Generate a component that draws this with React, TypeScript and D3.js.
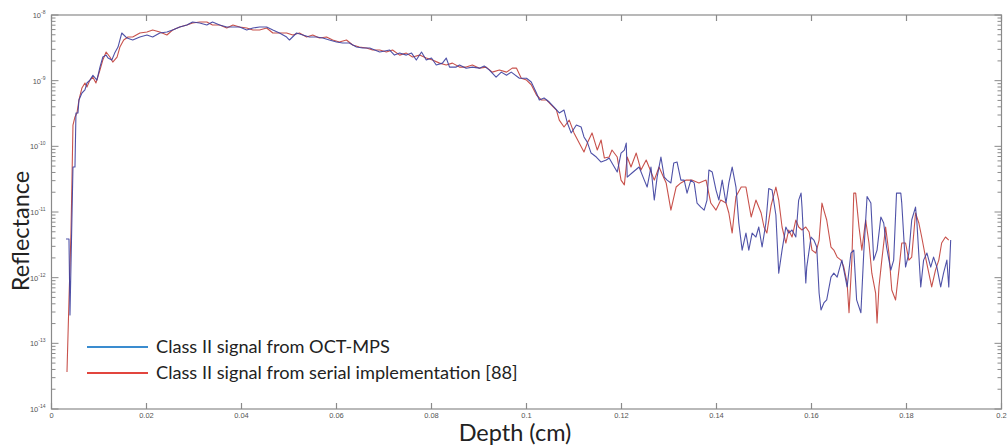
import React from "react";
import * as d3 from "d3";

// ---- Data ----
const blueDepth = [
  0.00305, 0.00368, 0.00389, 0.00452, 0.00494, 0.00515, 0.00557, 0.00578, 0.00641, 0.00704, 0.00746,
  0.00809, 0.00872, 0.00956, 0.0102, 0.0108, 0.0115, 0.0119, 0.0127, 0.0133, 0.014, 0.0148, 0.0159,
  0.0171, 0.0186, 0.0201, 0.0213, 0.0228, 0.0243, 0.0255, 0.027, 0.0285, 0.0297, 0.0312, 0.0327,
  0.0339, 0.0354, 0.0369, 0.0382, 0.0396, 0.0411, 0.0424, 0.0438, 0.0453, 0.0466, 0.048, 0.0495,
  0.0501, 0.0516, 0.0529, 0.0543, 0.0558, 0.0571, 0.0585, 0.06, 0.0613, 0.0627, 0.0642, 0.0655,
  0.067, 0.0691, 0.0712, 0.0722, 0.0733, 0.0747, 0.0758, 0.0768, 0.0779, 0.0789, 0.08, 0.081,
  0.0823, 0.0831, 0.0838, 0.0852, 0.0859, 0.0873, 0.0886, 0.0901, 0.0911, 0.0922, 0.0936, 0.0947,
  0.0958, 0.0968, 0.0985, 0.1, 0.101, 0.1021, 0.1027, 0.1037, 0.1048, 0.1058, 0.1069, 0.1079,
  0.1086, 0.1094, 0.1105, 0.1115, 0.1121, 0.1128, 0.1136, 0.1147, 0.1157, 0.1168, 0.1174, 0.118,
  0.1191, 0.1199, 0.1206, 0.121, 0.1212, 0.1222, 0.1237, 0.1248, 0.1254, 0.1262, 0.1269, 0.1275,
  0.1283, 0.129, 0.1296, 0.1304, 0.131, 0.1317, 0.1325, 0.1332, 0.1338, 0.1346, 0.1353, 0.1359,
  0.1367, 0.1374, 0.138, 0.1384, 0.1391, 0.1399, 0.1405, 0.1412, 0.142, 0.1426, 0.1433, 0.1441,
  0.1447, 0.1454, 0.1462, 0.1468, 0.1475, 0.1483, 0.1489, 0.1496, 0.1504, 0.151, 0.1517, 0.1525,
  0.1531, 0.1538, 0.1546, 0.1552, 0.1559, 0.1567, 0.1573, 0.1578, 0.158, 0.1588, 0.159, 0.1599,
  0.1605, 0.1611, 0.1616, 0.162, 0.1626, 0.1632, 0.1641, 0.1647, 0.1654, 0.1658, 0.1664, 0.1675,
  0.1683, 0.1689, 0.1695, 0.1704, 0.171, 0.1717, 0.1725, 0.1731, 0.1738, 0.1746, 0.1752, 0.1758,
  0.1767, 0.1773, 0.1779, 0.1788, 0.179, 0.1798, 0.1805, 0.1811, 0.1819, 0.1822, 0.183, 0.1836,
  0.1843, 0.1851, 0.1857, 0.1864, 0.1872, 0.1878, 0.1885, 0.1889, 0.1893,
];
const blueValues = [
  3.88e-12, 3.88e-12, 2.7e-13, 4.84e-11, 4.84e-11, 3.22e-10, 3.22e-10, 5.08e-10, 6.49e-10, 7.22e-10, 9.22e-10,
  1.02e-9, 1.21e-9, 1.02e-9, 1.61e-9, 2.29e-9, 2.45e-9, 2.21e-9, 2.06e-9, 2.63e-9, 3.25e-9, 5.32e-9, 4.46e-9,
  4.16e-9, 4.62e-9, 4.96e-9, 4.62e-9, 5.32e-9, 5.51e-9, 5.91e-9, 6.56e-9, 7.04e-9, 7.82e-9, 7.55e-9, 7.04e-9,
  7.82e-9, 7.04e-9, 6.56e-9, 6.56e-9, 6.56e-9, 5.91e-9, 6.34e-9, 6.56e-9, 6.56e-9, 5.91e-9, 5.32e-9, 4.62e-9,
  4.16e-9, 5.32e-9, 4.96e-9, 4.62e-9, 4.62e-9, 4.46e-9, 4.16e-9, 3.88e-9, 3.74e-9, 3.74e-9, 3.25e-9, 3.14e-9,
  3.14e-9, 2.73e-9, 2.93e-9, 2.45e-9, 2.63e-9, 2.45e-9, 2.63e-9, 2.06e-9, 2.73e-9, 2.06e-9, 2.21e-9, 1.73e-9,
  1.85e-9, 2.21e-9, 1.61e-9, 1.61e-9, 1.73e-9, 1.55e-9, 1.61e-9, 1.55e-9, 1.67e-9, 1.45e-9, 1.13e-9, 1.35e-9,
  1.21e-9, 1.35e-9, 1.09e-9, 1.09e-9, 9.55e-10, 6.49e-10, 5.08e-10, 5.45e-10, 4.73e-10, 3.97e-10, 3.22e-10, 3.57e-10,
  2.27e-10, 1.6e-10, 2.11e-10, 1.97e-10, 1.39e-10, 1.16e-10, 7.9e-11, 6.87e-11, 5.77e-11, 6.19e-11, 6.63e-11, 5.56e-11,
  4.06e-11, 7.9e-11, 8.78e-11, 1.12e-10, 3.4e-11, 3.92e-11, 4.84e-11, 3.06e-11, 2.4e-11, 4.84e-11, 1.52e-11, 3.4e-11,
  6.87e-11, 3.4e-11, 3.06e-11, 2.77e-11, 5.56e-11, 5.77e-11, 3.06e-11, 3.06e-11, 1.94e-11, 3.06e-11, 2.77e-11, 1.37e-11,
  1.19e-11, 1.07e-11, 1.52e-11, 4.35e-11, 4.06e-11, 2.16e-11, 1.52e-11, 3.06e-11, 1.37e-11, 2.77e-11, 4.84e-11, 2.4e-11,
  6.8e-12, 2.63e-12, 4.78e-12, 2.63e-12, 4.78e-12, 4.16e-12, 5.91e-12, 2.93e-12, 6.8e-12, 2.28e-11, 2.16e-11, 9.0e-12,
  1.17e-12, 2.63e-12, 5.91e-12, 4.78e-12, 5.32e-12, 4.16e-12, 1.52e-11, 1.94e-11, 1.19e-11, 8.3e-13, 1.45e-12, 4.16e-12,
  3.74e-12, 2.93e-12, 5.83e-13, 3.22e-13, 4.12e-13, 4.58e-13, 1.02e-12, 1.17e-12, 1.02e-12, 1.3e-12, 1.85e-12, 7.22e-13,
  2.37e-12, 2.63e-12, 4.58e-13, 2.92e-13, 2.37e-12, 1.72e-11, 1.37e-11, 1.85e-12, 2.63e-12, 8.39e-12, 6.8e-12, 2.93e-12,
  1.3e-12, 1.85e-12, 1.94e-11, 1.94e-11, 1.37e-11, 1.45e-12, 2.37e-12, 7.55e-12, 1.19e-11, 6.8e-12, 7.22e-13, 1.85e-12,
  2.37e-12, 1.45e-12, 2.06e-12, 1.45e-12, 7.22e-13, 1.17e-12, 1.85e-12, 7.22e-13, 3.74e-12,
];

const redDepth = [
  0.00326, 0.00368, 0.0041, 0.00431, 0.00452, 0.00494, 0.00536, 0.00578, 0.00641, 0.00704, 0.00746,
  0.00809, 0.00872, 0.00935, 0.0102, 0.0108, 0.0115, 0.0123, 0.0129, 0.0138, 0.0144, 0.0152, 0.0161,
  0.0171, 0.0186, 0.0201, 0.0213, 0.0228, 0.0243, 0.0255, 0.027, 0.0285, 0.0297, 0.0312, 0.0327,
  0.0339, 0.0354, 0.0369, 0.0382, 0.0396, 0.0411, 0.0424, 0.0438, 0.0453, 0.0466, 0.048, 0.0495,
  0.0508, 0.0522, 0.0537, 0.055, 0.0564, 0.0579, 0.0592, 0.0606, 0.0621, 0.0634, 0.0648, 0.0663,
  0.0676, 0.0691, 0.0705, 0.0718, 0.0733, 0.0747, 0.076, 0.0775, 0.0789, 0.0802, 0.0817, 0.0831,
  0.0844, 0.0859, 0.0873, 0.0886, 0.0901, 0.0915, 0.0928, 0.0943, 0.0958, 0.097, 0.0979, 0.0989,
  0.1, 0.101, 0.1021, 0.1031, 0.1042, 0.1052, 0.1063, 0.1069, 0.1079, 0.109, 0.11, 0.1111,
  0.1121, 0.1128, 0.1138, 0.1149, 0.1157, 0.1164, 0.1174, 0.118, 0.1191, 0.1199, 0.1206, 0.1212,
  0.122, 0.1231, 0.1241, 0.1252, 0.1258, 0.1269, 0.1279, 0.1294, 0.1304, 0.1315, 0.1325, 0.1336,
  0.1348, 0.1363, 0.1378, 0.1388, 0.1399, 0.1409, 0.142, 0.1426, 0.1433, 0.1441, 0.1452, 0.1462,
  0.1473, 0.1483, 0.1494, 0.15, 0.1506, 0.1515, 0.1525, 0.1531, 0.1538, 0.1546, 0.1552, 0.1559,
  0.1567, 0.1573, 0.158, 0.1588, 0.1595, 0.1601, 0.1609, 0.1616, 0.1622, 0.1626, 0.1632, 0.1641,
  0.1647, 0.1654, 0.1662, 0.1668, 0.1675, 0.1679, 0.1685, 0.1689, 0.1693, 0.17, 0.1706, 0.1714,
  0.1721, 0.1727, 0.1735, 0.1738, 0.1742, 0.1748, 0.1756, 0.1763, 0.1769, 0.1777, 0.1784, 0.179,
  0.1798, 0.1805, 0.1811, 0.1819, 0.1826, 0.1832, 0.184, 0.1847, 0.1853, 0.1861, 0.1868, 0.1874,
  0.1882, 0.1889,
];
const redValues = [
  3.65e-14, 4.58e-13, 4.78e-12, 3.06e-11, 2.11e-10, 2.8e-10, 3.22e-10, 5.08e-10, 7.74e-10, 9.22e-10, 8.02e-10,
  1.02e-9, 1.13e-9, 9.22e-10, 1.45e-9, 2.06e-9, 2.73e-9, 2.29e-9, 1.92e-9, 2.29e-9, 3.25e-9, 4.16e-9, 4.62e-9,
  4.62e-9, 5.32e-9, 5.51e-9, 5.91e-9, 5.51e-9, 4.96e-9, 5.91e-9, 6.56e-9, 7.04e-9, 7.55e-9, 7.82e-9, 7.82e-9,
  7.04e-9, 7.04e-9, 6.34e-9, 7.04e-9, 6.56e-9, 6.34e-9, 5.91e-9, 5.91e-9, 6.34e-9, 5.32e-9, 5.32e-9, 5.32e-9,
  4.96e-9, 5.32e-9, 4.62e-9, 4.96e-9, 4.46e-9, 4.62e-9, 4.16e-9, 3.88e-9, 4.16e-9, 3.49e-9, 3.25e-9, 3.14e-9,
  2.93e-9, 2.93e-9, 2.73e-9, 2.93e-9, 2.45e-9, 2.63e-9, 2.29e-9, 2.45e-9, 2.21e-9, 2.06e-9, 1.85e-9, 1.73e-9,
  1.85e-9, 1.61e-9, 1.61e-9, 1.73e-9, 1.55e-9, 1.61e-9, 1.35e-9, 1.45e-9, 1.35e-9, 1.55e-9, 1.55e-9, 1.09e-9,
  1.02e-9, 8.67e-10, 6.05e-10, 5.08e-10, 5.08e-10, 4.27e-10, 3.57e-10, 2.51e-10, 1.97e-10, 2.51e-10, 1.6e-10, 1.12e-10,
  8.2e-11, 1.12e-10, 1.6e-10, 8.78e-11, 1.25e-10, 6.63e-11, 6.87e-11, 8.78e-11, 6.87e-11, 3.06e-11, 2.59e-11, 6.87e-11,
  4.84e-11, 7.9e-11, 4.35e-11, 6.19e-11, 4.84e-11, 3.06e-11, 4.84e-11, 2.77e-11, 1.07e-11, 2.4e-11, 2.77e-11, 3.06e-11,
  3.06e-11, 2.77e-11, 3.06e-11, 1.37e-11, 1.07e-11, 1.52e-11, 1.37e-11, 9.66e-12, 4.78e-12, 1.72e-11, 2.4e-11, 2.4e-11,
  8.39e-12, 1.52e-11, 9.66e-12, 5.91e-12, 4.78e-12, 1.26e-11, 2.4e-11, 1.52e-11, 5.91e-12, 3.37e-12, 5.32e-12, 4.16e-12,
  7.55e-12, 5.91e-12, 5.32e-12, 5.91e-12, 4.96e-12, 2.63e-12, 2.37e-12, 3.74e-12, 1.37e-11, 1.07e-11, 7.55e-12, 2.93e-12,
  2.63e-12, 2.06e-12, 1.85e-12, 1.45e-12, 8.3e-13, 2.92e-13, 1.85e-12, 1.94e-11, 1.94e-11, 5.91e-12, 2.63e-12, 7.55e-12,
  3.37e-12, 1.17e-12, 5.83e-13, 2.04e-13, 7.22e-13, 1.85e-12, 5.91e-12, 2.37e-12, 6.49e-13, 4.58e-13, 1.3e-12, 3.37e-12,
  3.37e-12, 1.85e-12, 2.06e-12, 9.66e-12, 6.8e-12, 4.16e-12, 2.06e-12, 1.17e-12, 7.22e-13, 1.3e-12, 1.85e-12, 3.37e-12,
  4.16e-12, 3.74e-12,
];

const xTicks = [0, 0.02, 0.04, 0.06, 0.08, 0.1, 0.12, 0.14, 0.16, 0.18, 0.2];
const xTickLabels = ["0", "0.02", "0.04", "0.06", "0.08", "0.1", "0.12", "0.14", "0.16", "0.18", "0.2"];
const yDecades = [-14, -13, -12, -11, -10, -9, -8];
const seriesNames = [
  "Class II signal from OCT-MPS",
  "Class II signal from serial implementation [88]",
];

const W = 1008;
const H = 448;
const left = 51.5;
const right = 1001.5;
const top = 15;
const bottom = 409;
const axisColor = "#8a8a8a";
const labelColor = "#555";
const blueLine = "#3c3f9e";
const redLine = "#c8524c";
const blueLegend = "#3a8ccf";
const redLegend = "#e2453e";

export default function App() {
  const x = d3.scaleLinear().domain([0, 0.2]).range([left, right]);
  const y = d3.scaleLog().domain([1e-14, 1e-8]).range([bottom, top]);

  const line = d3
    .line<[number, number]>()
    .x((d) => x(d[0]))
    .y((d) => y(d[1]));

  const bluePts: [number, number][] = blueDepth.map((d, i) => [d, blueValues[i]]);
  const redPts: [number, number][] = redDepth.map((d, i) => [d, redValues[i]]);

  const minorTicks: { v: number; major: boolean }[] = [];
  for (let e = -14; e < -8; e++) {
    for (let k = 1; k <= 9; k++) {
      minorTicks.push({ v: k * Math.pow(10, e), major: k === 1 });
    }
  }
  minorTicks.push({ v: 1e-8, major: true });

  const font = "Lato, 'Open Sans', sans-serif";

  return (
    <svg
      width={W}
      height={H}
      style={{ position: "absolute", left: 0, top: 0, background: "#fff" }}
    >
      <rect x={0} y={0} width={W} height={H} fill="#fff" />
      <defs>
        <clipPath id="plotclip">
          <rect x={left} y={top} width={right - left} height={bottom - top} />
        </clipPath>
      </defs>
      <g clipPath="url(#plotclip)">
        <path d={line(redPts) || ""} fill="none" stroke={redLine} strokeWidth={1.1} strokeLinejoin="round" />
        <path d={line(bluePts) || ""} fill="none" stroke={blueLine} strokeWidth={1.1} strokeLinejoin="round" opacity={0.9} />
      </g>

      {/* box */}
      <rect x={left} y={top} width={right - left} height={bottom - top} fill="none" stroke={axisColor} strokeWidth={1.2} />

      {/* x ticks */}
      {xTicks.map((t, i) => (
        <g key={"xt" + i}>
          <line x1={x(t)} x2={x(t)} y1={bottom} y2={bottom - 6} stroke={axisColor} strokeWidth={1.2} />
          <line x1={x(t)} x2={x(t)} y1={top} y2={top + 6} stroke={axisColor} strokeWidth={1.2} />
          <text x={x(t)} y={bottom + 9} fontSize={7.5} fill={labelColor} textAnchor="middle" fontFamily="Arial, 'Liberation Sans', sans-serif">
            {xTickLabels[i]}
          </text>
        </g>
      ))}

      {/* y ticks */}
      {minorTicks.map((t, i) => {
        const len = t.major ? 7 : 4;
        const yy = y(t.v);
        return (
          <g key={"yt" + i}>
            <line x1={left} x2={left + len} y1={yy} y2={yy} stroke={axisColor} strokeWidth={1} />
            <line x1={right} x2={right - len} y1={yy} y2={yy} stroke={axisColor} strokeWidth={1} />
          </g>
        );
      })}
      {yDecades.map((e) => (
        <text key={"yl" + e} x={left - 6} y={y(Math.pow(10, e)) + 3} fontSize={7.5} fill={labelColor} textAnchor="end" fontFamily="Arial, 'Liberation Sans', sans-serif">
          10
          <tspan fontSize={5} dy={-4}>
            {String(e)}
          </tspan>
        </text>
      ))}

      {/* axis titles */}
      <text x={515} y={441} fontSize={23.5} fill="#222" textAnchor="middle" fontFamily={font}>
        Depth (cm)
      </text>
      <text transform={`translate(28.5, 231) rotate(-90)`} fontSize={23.5} fill="#222" textAnchor="middle" fontFamily={font}>
        Reflectance
      </text>

      {/* legend */}
      <line x1={87} x2={148} y1={347} y2={347} stroke={blueLegend} strokeWidth={2} />
      <line x1={87} x2={148} y1={373} y2={373} stroke={redLegend} strokeWidth={2} />
      <text x={156} y={353} fontSize={18.2} fill="#222" fontFamily={font}>
        {seriesNames[0]}
      </text>
      <text x={156} y={379} fontSize={18.2} fill="#222" fontFamily={font}>
        {seriesNames[1]}
      </text>
    </svg>
  );
}
